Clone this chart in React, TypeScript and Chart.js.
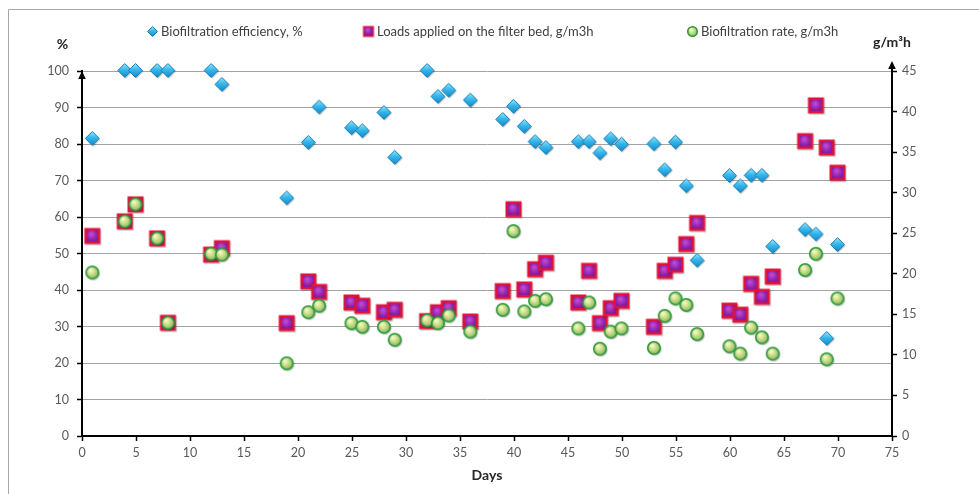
import { useEffect, useRef } from 'react';
import { Chart, registerables } from 'chart.js';

Chart.register(...registerables);

// ---- data ----
const days = [1, 4, 5, 7, 8, 12, 13, 19, 21, 22, 25, 26, 28, 29, 32, 33, 34, 36, 39, 40, 41, 42, 43, 46, 47, 48, 49, 50, 53, 54, 55, 56, 57, 60, 61, 62, 63, 64, 67, 68, 69, 70];
const efficiency = [81.4, 100, 100, 100, 100, 100, 96.2, 65.1, 80.3, 90.0, 84.3, 83.5, 88.5, 76.2, 100, 92.9, 94.6, 91.9, 86.6, 90.2, 84.7, 80.5, 78.9, 80.5, 80.5, 77.4, 81.3, 79.8, 79.9, 72.8, 80.4, 68.4, 48.0, 71.2, 68.4, 71.3, 71.3, 51.8, 56.4, 55.2, 26.6, 52.3];
const loads = [24.6, 26.4, 28.5, 24.3, 13.9, 22.3, 23.1, 13.85, 19.0, 17.7, 16.4, 16.0, 15.2, 15.5, 14.1, 15.2, 15.7, 14.05, 17.8, 27.9, 18.0, 20.5, 21.3, 16.4, 20.3, 13.85, 15.7, 16.6, 13.4, 20.3, 21.05, 23.6, 26.2, 15.4, 14.9, 18.7, 17.1, 19.6, 36.3, 40.7, 35.5, 32.4];
const rates = [20.1, 26.4, 28.5, 24.3, 13.9, 22.4, 22.3, 8.9, 15.2, 16.0, 13.85, 13.4, 13.4, 11.8, 14.2, 13.85, 14.8, 12.8, 15.5, 25.2, 15.3, 16.6, 16.8, 13.2, 16.4, 10.7, 12.8, 13.2, 10.8, 14.75, 16.9, 16.1, 12.5, 11.0, 10.1, 13.3, 12.1, 10.1, 20.4, 22.4, 9.4, 16.9];

const seriesNames = ['Biofiltration efficiency, %', 'Loads applied on the filter bed, g/m3h', 'Biofiltration rate, g/m3h'];
const dayTicks = [0, 5, 10, 15, 20, 25, 30, 35, 40, 45, 50, 55, 60, 65, 70, 75];
const percentTicks = [0, 10, 20, 30, 40, 50, 60, 70, 80, 90, 100];
const rateTicks = [0, 5, 10, 15, 20, 25, 30, 35, 40, 45];
const leftTitle = '%';
const rightTitle = 'g/m³h';
const xTitle = 'Days';

// ---- marker images ----
function mk(w: number) {
  const c = document.createElement('canvas');
  c.width = w;
  c.height = w;
  return c;
}

function makeDiamond(size: number, shadow = true) {
  const c = mk(size + 4);
  const g = c.getContext('2d')!;
  const cx = c.width / 2 - 0.5, cy = c.height / 2 - 0.5, r = size / 2;
  const path = (x: number, y: number) => {
    g.beginPath();
    g.moveTo(x, y - r);
    g.lineTo(x + r, y);
    g.lineTo(x, y + r);
    g.lineTo(x - r, y);
    g.closePath();
  };
  if (shadow) {
    g.fillStyle = 'rgba(0,0,0,0.22)';
    path(cx + 1, cy + 1.3);
    g.fill();
  }
  const grad = g.createLinearGradient(0, cy - r, 0, cy + r);
  grad.addColorStop(0, '#9be6fc');
  grad.addColorStop(0.45, '#36b8ec');
  grad.addColorStop(1, '#1489c9');
  path(cx, cy);
  g.fillStyle = grad;
  g.fill();
  g.lineWidth = 1;
  g.strokeStyle = '#1c7bb3';
  g.stroke();
  return c;
}

function makeSquare(size: number, shadow = true) {
  const c = mk(size + 4);
  const g = c.getContext('2d')!;
  const x0 = (c.width - size) / 2 - 0.5, y0 = (c.height - size) / 2 - 0.5;
  if (shadow) {
    g.fillStyle = 'rgba(0,0,0,0.22)';
    g.fillRect(x0 + 1, y0 + 1.3, size, size);
  }
  g.fillStyle = '#e0123a';
  g.fillRect(x0, y0, size, size);
  const inset = size > 12 ? 2.5 : 1.5;
  const cx = x0 + size / 2, cy = y0 + size / 2;
  const grad = g.createRadialGradient(cx - 1, cy - 2, 0.5, cx, cy, size * 0.62);
  grad.addColorStop(0, '#c04ed4');
  grad.addColorStop(0.5, '#8f1fa8');
  grad.addColorStop(1, '#6a1385');
  g.fillStyle = grad;
  g.fillRect(x0 + inset, y0 + inset, size - 2 * inset, size - 2 * inset);
  return c;
}

function makeCircle(d: number, shadow = true) {
  const c = mk(d + 4);
  const g = c.getContext('2d')!;
  const cx = c.width / 2 - 0.5, cy = c.height / 2 - 0.5, r = d / 2;
  if (shadow) {
    g.fillStyle = 'rgba(0,0,0,0.22)';
    g.beginPath();
    g.arc(cx + 1, cy + 1.3, r, 0, Math.PI * 2);
    g.fill();
  }
  const grad = g.createRadialGradient(cx - r * 0.3, cy - r * 0.4, 0.3, cx, cy, r);
  grad.addColorStop(0, '#fbfbd2');
  grad.addColorStop(0.45, '#cfe08e');
  grad.addColorStop(1, '#7fb257');
  g.beginPath();
  g.arc(cx, cy, r - 0.5, 0, Math.PI * 2);
  g.fillStyle = grad;
  g.fill();
  g.lineWidth = 1.6;
  g.strokeStyle = '#2e9a3d';
  g.stroke();
  return c;
}

const FONT = 'Lato, "Open Sans", "DejaVu Sans", sans-serif';

export default function App() {
  const ref = useRef<HTMLCanvasElement | null>(null);

  useEffect(() => {
    if (!ref.current) return;

    const diamond = makeDiamond(14);
    const square = makeSquare(16);
    const circle = makeCircle(13.5);
    const legendMarks = [makeDiamond(10, false), makeSquare(11, false), makeCircle(10.5, false)];
    const legendPos = [
      { mark: 153, text: 161 },
      { mark: 369, text: 377 },
      { mark: 693, text: 701 },
    ];

    const decorations = {
      id: 'decorations',
      beforeDraw(chart: any) {
        const ctx = chart.ctx as CanvasRenderingContext2D;
        ctx.save();
        ctx.fillStyle = '#ffffff';
        ctx.fillRect(0, 0, chart.width, chart.height);
        ctx.strokeStyle = '#a8a8a8';
        ctx.lineWidth = 1;
        ctx.beginPath();
        ctx.moveTo(8.5, chart.height);
        ctx.lineTo(8.5, 9.5);
        ctx.lineTo(chart.width, 9.5);
        ctx.stroke();
        ctx.restore();
      },
      afterDraw(chart: any) {
        const ctx = chart.ctx as CanvasRenderingContext2D;
        const { left, right, top } = chart.chartArea;
        ctx.save();
        // axis arrows
        ctx.fillStyle = '#000';
        ctx.strokeStyle = '#000';
        ctx.lineWidth = 2;
        ctx.beginPath();
        ctx.moveTo(right, top);
        ctx.lineTo(right, top - 6);
        ctx.stroke();
        const arrow = (x: number, tip: number) => {
          ctx.beginPath();
          ctx.moveTo(x, tip);
          ctx.lineTo(x + 3.8, tip + 8);
          ctx.lineTo(x - 3.8, tip + 8);
          ctx.closePath();
          ctx.fill();
        };
        arrow(left, top);
        arrow(right, top - 10);
        // axis titles
        ctx.fillStyle = '#262626';
        ctx.font = `bold 14px ${FONT}`;
        ctx.textBaseline = 'middle';
        ctx.textAlign = 'center';
        ctx.fillText(leftTitle, 62.5, 44);
        ctx.textAlign = 'left';
        ctx.fillText(rightTitle, 873, 42);
        ctx.textAlign = 'center';
        ctx.fillText(xTitle, (left + right) / 2, 475);
        // legend
        ctx.font = `13px ${FONT}`;
        ctx.fillStyle = '#404040';
        ctx.textAlign = 'left';
        seriesNames.forEach((name, i) => {
          const img = legendMarks[i];
          const p = legendPos[i];
          ctx.drawImage(img, p.mark - img.width / 2, 32 - img.height / 2);
          ctx.fillText(name, p.text, 32);
        });
        ctx.restore();
      },
    };

    const toPts = (vals: number[]) => days.map((d, i) => ({ x: d, y: vals[i] }));
    const tickFont = { family: FONT, size: 12.5 };

    const chart = new Chart(ref.current, {
      type: 'scatter',
      data: {
        datasets: [
          {
            label: seriesNames[0],
            data: toPts(efficiency),
            yAxisID: 'y',
            pointStyle: diamond as any,
            pointRadius: 7,
            order: 3,
            clip: false as any,
          },
          {
            label: seriesNames[1],
            data: toPts(loads),
            yAxisID: 'y1',
            pointStyle: square as any,
            pointRadius: 8,
            order: 2,
            clip: false as any,
          },
          {
            label: seriesNames[2],
            data: toPts(rates),
            yAxisID: 'y1',
            pointStyle: circle as any,
            pointRadius: 7,
            order: 1,
            clip: false as any,
          },
        ],
      },
      options: {
        animation: false,
        responsive: false,
        events: [],
        layout: { padding: { top: 71, left: 0, right: 0, bottom: 0 } },
        plugins: {
          legend: { display: false },
          tooltip: { enabled: false },
        },
        scales: {
          x: {
            type: 'linear',
            min: 0,
            max: 75,
            afterBuildTicks: (s: any) => {
              s.ticks = dayTicks.map((v) => ({ value: v }));
            },
            afterFit: (s: any) => {
              s.height = 58;
            },
            ticks: { color: '#595959', font: tickFont, padding: 4, maxRotation: 0, autoSkip: false },
            grid: { drawOnChartArea: false, tickColor: '#000', tickLength: 5, tickWidth: 1.5 },
            border: { color: '#000', width: 2 },
          },
          y: {
            type: 'linear',
            position: 'left',
            min: 0,
            max: 100,
            afterBuildTicks: (s: any) => {
              s.ticks = percentTicks.map((v) => ({ value: v }));
            },
            afterFit: (s: any) => {
              s.width = 82;
            },
            ticks: { color: '#595959', font: tickFont, padding: 8 },
            grid: { color: '#a3a3a3', lineWidth: 1, tickColor: '#000', tickLength: 5, tickWidth: 1.5 },
            border: { color: '#000', width: 2 },
          },
          y1: {
            type: 'linear',
            position: 'right',
            min: 0,
            max: 45,
            afterBuildTicks: (s: any) => {
              s.ticks = rateTicks.map((v) => ({ value: v }));
            },
            afterFit: (s: any) => {
              s.width = 87;
            },
            ticks: { color: '#595959', font: tickFont, padding: 5 },
            grid: { drawOnChartArea: false, tickColor: '#000', tickLength: 5, tickWidth: 1.5 },
            border: { color: '#000', width: 2 },
          },
        },
      },
      plugins: [decorations],
    });

    return () => chart.destroy();
  }, []);

  return (
    <div style={{ position: 'fixed', left: 0, top: 0, width: 979, height: 494, background: '#fff' }}>
      <canvas ref={ref} width={979} height={494} style={{ display: 'block', width: 979, height: 494 }} />
    </div>
  );
}
